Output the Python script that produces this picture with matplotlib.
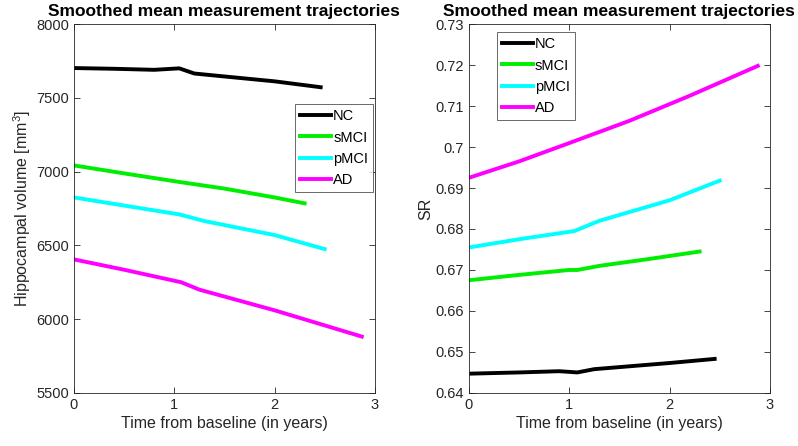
import matplotlib
matplotlib.use('Agg')
import matplotlib.pyplot as plt

plt.rcParams['font.family'] = ['Liberation Sans', 'DejaVu Sans']
plt.rcParams['mathtext.fontset'] = 'custom'
plt.rcParams['mathtext.rm'] = 'Liberation Sans'

groups = ['NC', 'sMCI', 'pMCI', 'AD']
colors = ['#000000', '#00ee00', '#00ffff', '#ff00ff']

# Hippocampal volume trajectories
hv_t = {
    'NC':   [0, 0.4, 0.8, 1.05, 1.2, 1.5, 2.0, 2.46],
    'sMCI': [0, 0.5, 1.05, 1.5, 2.0, 2.3],
    'pMCI': [0, 0.5, 1.05, 1.3, 2.0, 2.5],
    'AD':   [0, 0.5, 1.07, 1.25, 2.0, 2.87],
}
hv_y = {
    'NC':   [7702, 7697, 7690, 7700, 7665, 7645, 7612, 7572],
    'sMCI': [7042, 6988, 6930, 6885, 6825, 6785],
    'pMCI': [6825, 6770, 6710, 6665, 6570, 6475],
    'AD':   [6405, 6335, 6250, 6200, 6060, 5882],
}

# SR trajectories
sr_t = {
    'NC':   [0, 0.5, 0.9, 1.08, 1.25, 1.6, 2.0, 2.45],
    'sMCI': [0, 0.5, 1.0, 1.08, 1.3, 1.8, 2.3],
    'pMCI': [0, 0.5, 1.05, 1.3, 2.0, 2.5],
    'AD':   [0, 0.5, 0.97, 1.6, 2.2, 2.88],
}
sr_y = {
    'NC':   [0.6447, 0.6450, 0.6453, 0.6450, 0.6458, 0.6465, 0.6473, 0.6483],
    'sMCI': [0.6675, 0.6688, 0.6700, 0.6700, 0.6710, 0.6727, 0.6745],
    'pMCI': [0.6755, 0.6775, 0.6795, 0.6820, 0.6870, 0.6918],
    'AD':   [0.6925, 0.6965, 0.7007, 0.7064, 0.7125, 0.7198],
}

fig = plt.figure(figsize=(7.98, 4.46), dpi=100)
ax1 = fig.add_axes([0.0927, 0.119, 0.377, 0.827])
ax2 = fig.add_axes([0.5877, 0.119, 0.377, 0.827])

for g, c in zip(groups, colors):
    ax1.plot(hv_t[g], hv_y[g], color=c, lw=2.8, label=g)
    ax2.plot(sr_t[g], sr_y[g], color=c, lw=2.8, label=g)

dark = '#262626'
for ax in (ax1, ax2):
    ax.set_xlim(0, 3)
    ax.set_xticks([0, 1, 2, 3])
    ax.tick_params(direction='in', top=True, right=True, labelsize=10.5,
                   colors=dark, length=4, width=0.6)
    for s in ax.spines.values():
        s.set_color(dark)
        s.set_linewidth(0.6)
    ax.set_xlabel('Time from baseline (in years)', fontsize=11.5, color=dark, labelpad=3)
    ax.set_title('Smoothed mean measurement trajectories', fontsize=12.5,
                 fontweight='bold', pad=6)

ax1.set_ylim(5500, 8000)
ax1.set_yticks([5500, 6000, 6500, 7000, 7500, 8000])
ax1.set_ylabel('Hippocampal volume [mm$^3$]', fontsize=11.5, color=dark, labelpad=2)

ax2.set_ylim(0.64, 0.73)
ax2.set_yticks([0.64, 0.65, 0.66, 0.67, 0.68, 0.69, 0.70, 0.71, 0.72, 0.73])
ax2.set_yticklabels(['0.64', '0.65', '0.66', '0.67', '0.68', '0.69', '0.7',
                     '0.71', '0.72', '0.73'])
ax2.set_ylabel('SR', fontsize=11.5, color=dark, labelpad=2)

leg_kw = dict(fontsize=10.5, frameon=True, fancybox=False, handlelength=2.1,
              handletextpad=0.15, borderpad=0.35, labelspacing=0.5,
              borderaxespad=0)
l1 = ax1.legend(loc='upper right', bbox_to_anchor=(0.995, 0.783), **leg_kw)
l2 = ax2.legend(loc='upper left', bbox_to_anchor=(0.093, 0.978), **leg_kw)
for l in (l1, l2):
    l.get_frame().set_edgecolor(dark)
    l.get_frame().set_linewidth(0.6)

fig.savefig('out.png', dpi=100)
